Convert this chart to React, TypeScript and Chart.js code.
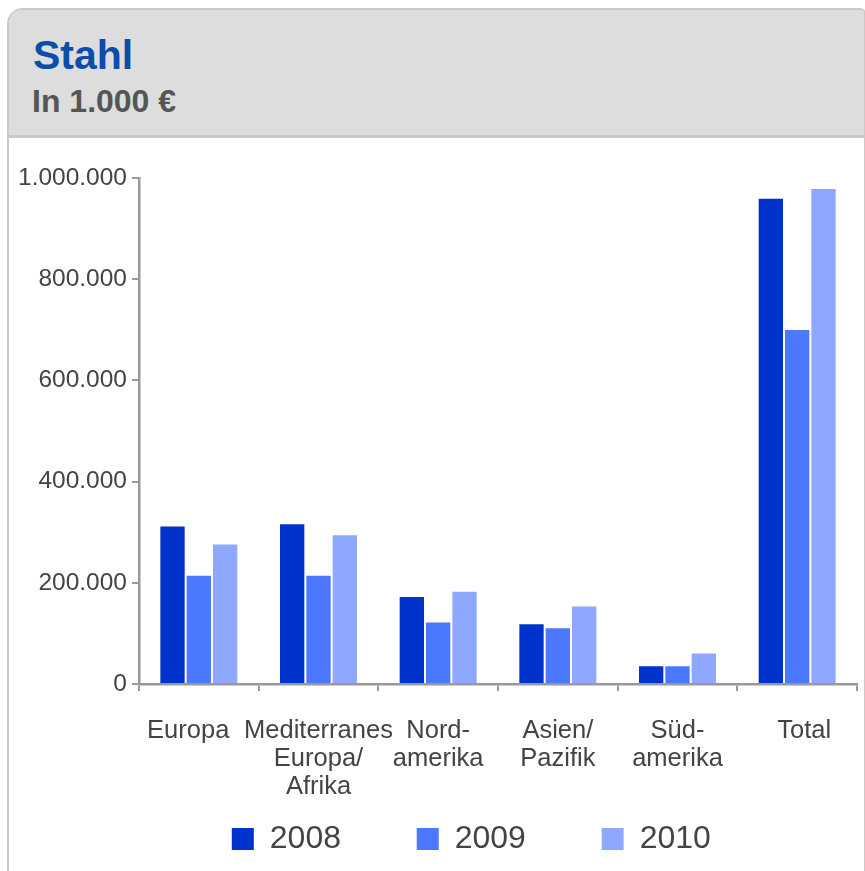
import React, { useEffect, useRef } from 'react';
import { Chart, registerables } from 'chart.js';
Chart.register(...registerables);

const categories: string[][] = [
  ['Europa   '],
  ['Mediterranes', 'Europa/', 'Afrika'],
  ['Nord-', 'amerika'],
  ['Asien/', 'Pazifik'],
  ['Süd-', 'amerika'],
  ['  Total'],
];
const seriesNames = ['2008', '2009', '2010'];
const values2008 = [313000, 317500, 174000, 120000, 37000, 961000];
const values2009 = [216000, 216000, 123500, 112000, 37000, 701500];
const values2010 = [277500, 296000, 184500, 155000, 62500, 980000];
const yMin = 0;
const yMax = 1000000;
const yStep = 200000;

const seriesColors = ['#0033CC', '#4C78FF', '#8FA8FF'];
const FONT = "'Liberation Sans', Arial, Helvetica, sans-serif";

function fmt(v: number): string {
  return String(Math.round(v)).replace(/\B(?=(\d{3})+(?!\d))/g, '.');
}

export default function App() {
  const ref = useRef<HTMLCanvasElement>(null);
  useEffect(() => {
    document.body.style.margin = '0';
    Chart.defaults.font.family = FONT;
    const chart = new Chart(ref.current!, {
      type: 'bar',
      data: {
        labels: categories,
        datasets: [values2008, values2009, values2010].map((d, i) => ({
          label: seriesNames[i],
          data: d,
          backgroundColor: seriesColors[i],
          borderColor: '#ffffff',
          borderWidth: 1,
          categoryPercentage: 0.66,
          barPercentage: 1,
        })),
      },
      options: {
        responsive: false,
        animation: false,
        layout: { padding: { top: 38, left: 4, right: 8, bottom: 6 } },
        plugins: {
          tooltip: { enabled: false },
          legend: {
            position: 'bottom',
            fullSize: false,
            labels: {
              font: { size: 32, family: FONT },
              color: '#444444',
              boxWidth: 22,
              boxHeight: 22,
              padding: 13.5,
              generateLabels: (c: any) => {
                const items = Chart.defaults.plugins.legend.labels.generateLabels(c);
                return items.map((it: any, i: number) => ({
                  ...it,
                  text: it.text + (i < items.length - 1 ? '\u0020\u0020\u0020\u0020\u0020\u0020\u0020' : '\u0020\u0020\u0020\u0020\u0020\u0020'),
                  lineWidth: 0,
                  strokeStyle: seriesColors[i],
                  fillStyle: seriesColors[i],
                }));
              },
            },
          },
        },
        scales: {
          x: {
            afterFit: (s: any) => { s.height = 125.5; },
            grid: {
              drawOnChartArea: false,
              drawTicks: true,
              tickLength: 7,
              color: '#999999',
              lineWidth: 2,
            },
            border: { display: true, color: '#999999', width: 2.5 },
            ticks: {
              autoSkip: false,
              maxRotation: 0,
              minRotation: 0,
              padding: 25.7,
              color: '#444444',
              font: { size: 25.5, family: FONT, lineHeight: 1.1 },
            },
          },
          y: {
            min: yMin,
            max: yMax,
            grid: {
              drawOnChartArea: false,
              drawTicks: true,
              tickLength: 7,
              color: '#999999',
              lineWidth: 2,
            },
            border: { display: true, color: '#999999', width: 2.5 },
            ticks: {
              stepSize: yStep,
              padding: 5,
              color: '#444444',
              font: { size: 24.5, family: FONT },
              callback: (v: any) => fmt(Number(v)),
            },
          },
        },
      },
    } as any);
    return () => chart.destroy();
  }, []);

  return (
    <div style={{ position: 'fixed', left: 0, top: 0, width: 865, height: 871, overflow: 'hidden', background: '#ffffff', fontFamily: FONT }}>
      <div style={{ position: 'absolute', left: 7, top: 8, width: 859, height: 900, border: '2px solid #cdc8c3', borderBottom: 'none', borderRadius: '16px 6px 0 0', boxSizing: 'border-box', background: '#ffffff', overflow: 'hidden' }}>
        <div style={{ position: 'absolute', left: 0, top: 0, right: 0, height: 125, background: '#dddddd', borderBottom: '3px solid #cdc8c3' }}>
          <div style={{ position: 'absolute', left: 24, top: 25, fontSize: 41, lineHeight: '41px', fontWeight: 'bold', color: '#0a4dab', whiteSpace: 'nowrap' }}>Stahl</div>
          <div style={{ position: 'absolute', left: 23, top: 75, fontSize: 32, lineHeight: '32px', fontWeight: 'bold', color: '#555555', whiteSpace: 'nowrap' }}>In 1.000 €</div>
        </div>
      </div>
      <div style={{ position: 'absolute', left: 9, top: 140, width: 856, height: 731 }}>
        <canvas ref={ref} width={856} height={731} style={{ width: 856, height: 731, display: 'block' }} />
      </div>
    </div>
  );
}
